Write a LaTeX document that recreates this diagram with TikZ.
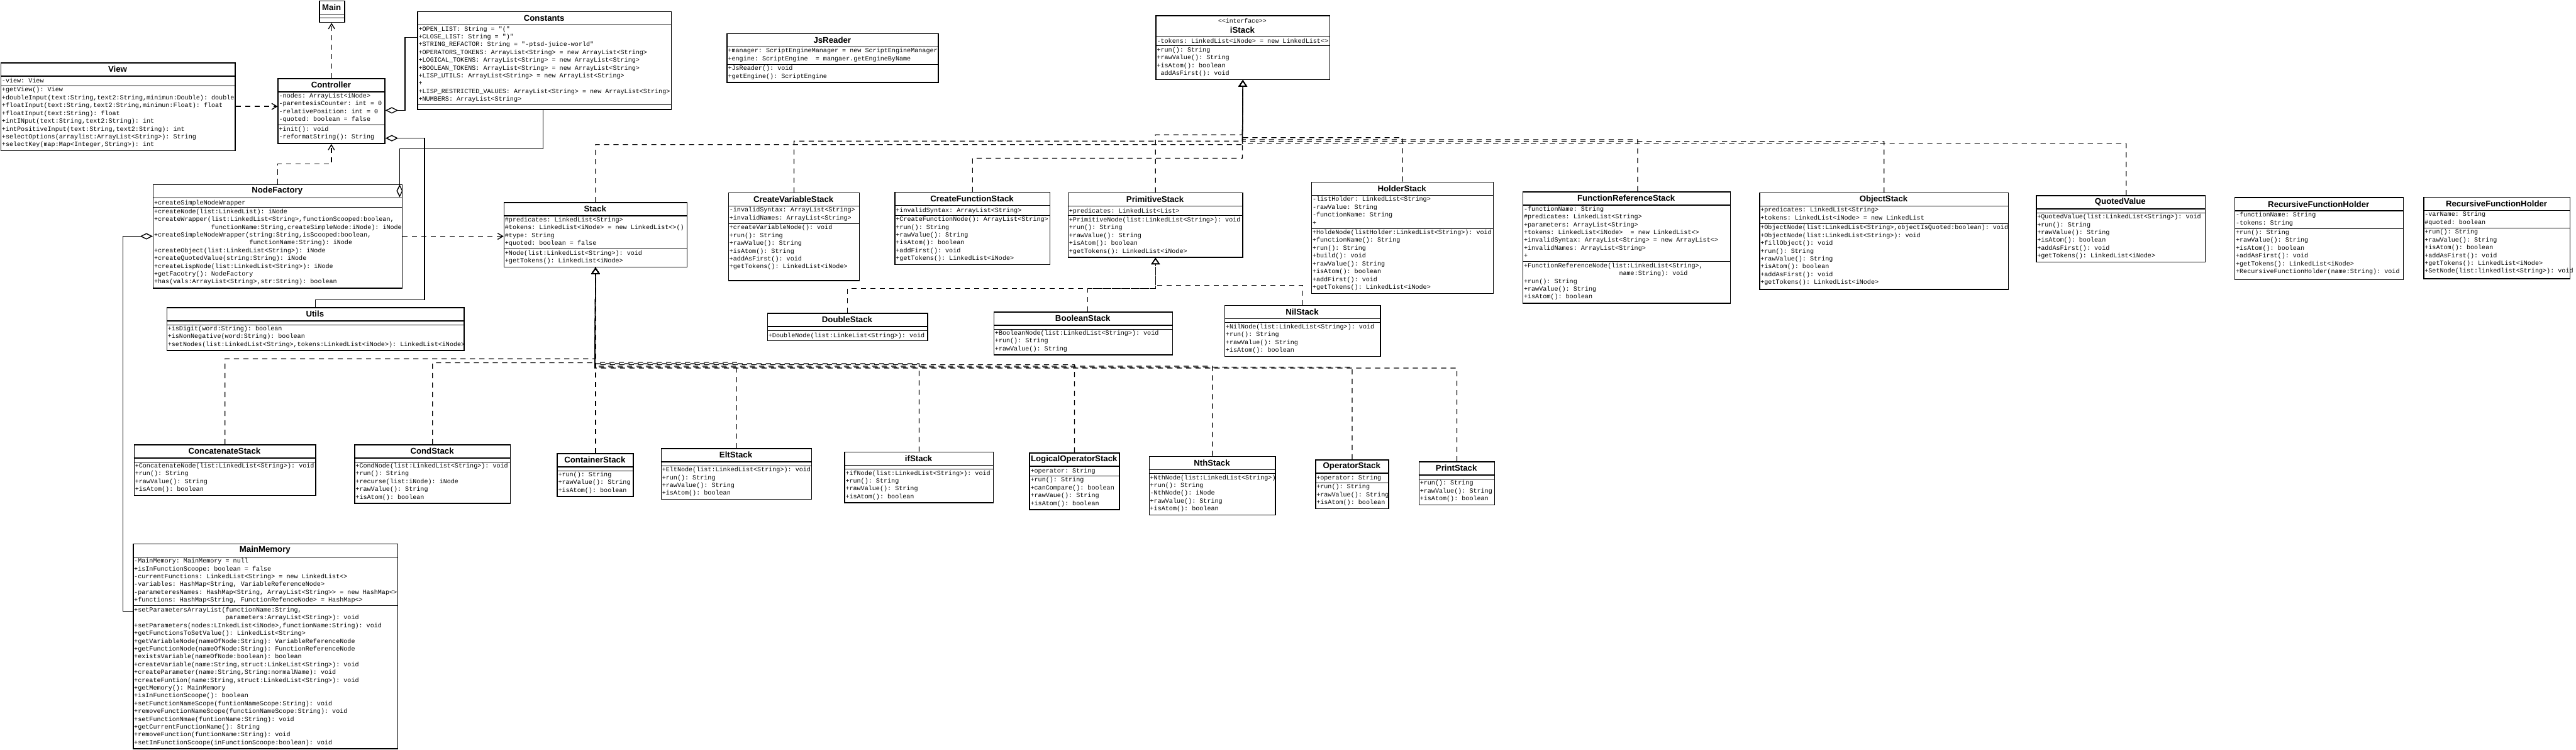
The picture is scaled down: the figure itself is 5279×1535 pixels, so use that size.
\documentclass[tikz,border=0pt]{standalone}
\usepackage{fontspec}
\setmainfont{Liberation Sans}
\setsansfont{Liberation Sans}
\setmonofont{Liberation Mono}
\usetikzlibrary{arrows.meta}
\def\ugeom#1/#2/#3/#4/#5/#6\relax{\def\uxa{#1}\def\uxb{#2}\def\uya{#3}\def\uyt{#4}\def\uys{#5}\def\uyb{#6}}
\newcommand\uclass[5]{%
  \ugeom#2\relax
  \node[ubox, anchor=north west, minimum width={(\uxb-\uxa)*0.01cm}, minimum height={(\uyb-\uya)*0.01cm}] (#1) at (\uxa,\uya) {};
  \draw[sepT] (\uxa,\uyt) -- (\uxb,\uyt);
  \draw[sepN] (\uxa,\uys) -- (\uxb,\uys);
  \node[utitle] (#1-t) at ({(\uxa+\uxb)/2},{(\uya+\uyt)/2}) {#3};
  \node[ubody] (#1-a) at (\uxa,\uyt) {#4};
  \node[ubody] (#1-m) at (\uxa,\uys) {#5};
}
\newcommand\ind[1]{\phantom{#1}}
\tikzset{
  ubox/.style={draw, line width=0.55pt, inner sep=0pt, fill=white},
  sepT/.style={line width=0.55pt},
  sepN/.style={line width=0.35pt},
  utitle/.style={font=\sffamily\bfseries\fontsize{4.85pt}{5.4pt}\selectfont, inner sep=0pt, align=center},
  ubody/.style={anchor=north west, align=left, inner xsep=0.6pt, inner ysep=0.57pt,
    font=\ttfamily\fontsize{3.7pt}{4.55pt}\selectfont,
    execute at begin node=\strut, execute at end node=\strut},
  dep/.style={line width=0.5pt, dash pattern=on 3pt off 2.5pt, -{Straight Barb[length=3pt,width=3.6pt,line width=0.5pt]}},
  agg/.style={line width=0.45pt, {Diamond[fill=white,length=7.4pt,width=3.7pt,line width=0.5pt]}-},
  real/.style={line width=0.45pt, dash pattern=on 3pt off 2.5pt, -{Triangle[open,length=3.8pt,width=5pt,line width=0.5pt]}},
}
\begin{document}
\begin{tikzpicture}[x=0.01cm,y=-0.01cm]
\useasboundingbox[fill=white] (0,0) rectangle (5279,1535);

% ---------- top row ----------
\uclass{Main}{654/705/1/29/37/45}{Main}{}{}
\uclass{View}{1/481/128/156/176/308}{View}{-view: View}{%
+getView(): View\\
+doubleInput(text:String,text2:String,minimun:Double): double\\
+floatInput(text:String,text2:String,minimun:Float): float\\
+floatInput(text:String): float\\
+intINput(text:String,text2:String): int\\
+intPositiveInput(text:String,text2:String): int\\
+selectOptions(arraylist:ArrayList<String>): String\\
+selectKey(map:Map<Integer,String>): int}
\uclass{Controller}{569/788/160/188/256/293}{Controller}{%
-nodes: ArrayList<iNode>\\
-parentesisCounter: int = 0\\
-relativePosition: int = 0\\
-quoted: boolean = false}{%
+init(): void\\
-reformatString(): String}
\uclass{Constants}{855/1375/23/51/215/223}{Constants}{%
+OPEN\_LIST: String = "("\\
+CLOSE\_LIST: String = ")"\\
+STRING\_REFACTOR: String = "-ptsd-juice-world"\\
+OPERATORS\_TOKENS: ArrayList<String> = new ArrayList<String>\\
+LOGICAL\_TOKENS: ArrayList<String> = new ArrayList<String>\\
+BOOLEAN\_TOKENS: ArrayList<String> = new ArrayList<String>\\
+LISP\_UTILS: ArrayList<String> = new ArrayList<String>\\
+\\
+LISP\_RESTRICTED\_VALUES: ArrayList<String> = new ArrayList<String>\\
+NUMBERS: ArrayList<String>}{}
\uclass{JsReader}{1489/1922/68/96/132/168}{JsReader}{%
+manager: ScriptEngineManager = new ScriptEngineManager\\
+engine: ScriptEngine\ \ = mangaer.getEngineByName}{%
+JsReader(): void\\
+getEngine(): ScriptEngine}
\uclass{iStack}{2368/2724/31/74/94/162}{{\ttfamily\mdseries\fontsize{3.6pt}{4.5pt}\selectfont <<interface>>}\\[0.4pt]iStack}{%
-tokens: LinkedList<iNode> = new LinkedList<>}{%
+run(): String\\
+rawValue(): String\\
+isAtom(): boolean\\
\ addAsFirst(): void}

% ---------- middle row ----------
\uclass{NodeFactory}{313/823/377/405/425/589}{NodeFactory}{+createSimpleNodeWrapper}{%
+createNode(list:LinkedList): iNode\\
+createWrapper(list:LinkedList<String>,functionScooped:boolean,\\
\ind{+createWrapper(}functionName:String,createSimpleNode:iNode): iNode\\
+createSimpleNodeWrapper(string:String,isScooped:boolean,\\
\ind{+createSimpleNodeWrapper(}functionName:String): iNode\\
+createObject(list:LinkedList<String>): iNode\\
+createQuotedValue(string:String): iNode\\
+createLispNode(list:LinkedList<String>): iNode\\
+getFacotry(): NodeFactory\\
+has(vals:ArrayList<String>,str:String): boolean}
\uclass{Utils}{341/950/629/657/665/717}{Utils}{}{%
+isDigit(word:String): boolean\\
+isNonNegative(word:String): boolean\\
+setNodes(list:LinkedList<String>,tokens:LinkedList<iNode>): LinkedList<iNode>}
\uclass{Stack}{1032/1407/414/442/510/546}{Stack}{%
\#predicates: LinkedList<String>\\
\#tokens: LinkedList<iNode> = new LinkedList<>()\\
\#type: String\\
+quoted: boolean = false}{%
+Node(list:LinkedList<String>): void\\
+getTokens(): LinkedList<iNode>}
\uclass{CVS}{1492/1760/394/422/458/574}{CreateVariableStack}{%
-invalidSyntax: ArrayList<String>\\
+invalidNames: ArrayList<String>}{%
+createVariableNode(): void\\
+run(): String\\
+rawValue(): String\\
+isAtom(): String\\
+addAsFirst(): void\\
+getTokens(): LinkedList<iNode>}
\uclass{CFS}{1833/2151/393/421/441/541}{CreateFunctionStack}{%
+invalidSyntax: ArrayList<String>}{%
+CreateFunctionNode(): ArrayList<String>\\
+run(): String\\
+rawValue(): String\\
+isAtom(): boolean\\
+addFirst(): void\\
+getTokens(): LinkedList<iNode>}
\uclass{PS}{2188/2546/394/422/442/526}{PrimitiveStack}{%
+predicates: LinkedList<List>}{%
+PrimitiveNode(list:LinkedList<String>): void\\
+run(): String\\
+rawValue(): String\\
+isAtom(): boolean\\
+getTokens(): LinkedList<iNode>}
\uclass{HS}{2687/3059/372/400/468/600}{HolderStack}{%
-listHolder: LinkedList<String>\\
-rawValue: String\\
-functionName: String\\
+}{%
+HoldeNode(listHolder:LinkedList<String>): void\\
+functionName(): String\\
+run(): String\\
+build(): void\\
+rawValue(): String\\
+isAtom(): boolean\\
+addFirst(): void\\
+getTokens(): LinkedList<iNode>}
\uclass{FRS}{3120/3545/392/420/536/620}{FunctionReferenceStack}{%
-functionName: String\\
\#predicates: LinkedList<String>\\
+parameters: ArrayList<String>\\
+tokens: LinkedList<iNode>\ \ = new LinkedList<>\\
+invalidSyntax: ArrayList<String> = new ArrayList<>\\
+invalidNames: ArrayList<String>\\
+}{%
+FunctionReferenceNode(list:LinkedList<String>,\\
\ind{+FunctionReferenceNode(xx}name:String): void\\
+run(): String\\
+rawValue(): String\\
+isAtom(): boolean}
\uclass{OS}{3605/4115/394/422/458/592}{ObjectStack}{%
+predicates: LinkedList<String>\\
+tokens: LinkedList<iNode> = new LinkedList}{%
+ObjectNode(list:LinkedList<String>,objectIsQuoted:boolean): void\\
+ObjectNode(list:LinkedList<String>): void\\
+fillObject(): void\\
+run(): String\\
+rawValue(): String\\
+isAtom(): boolean\\
+addAsFirst(): void\\
+getTokens(): LinkedList<iNode>}
\uclass{QV}{4172/4518/400/428/436/536}{QuotedValue}{}{%
+QuotedValue(list:LinkedList<String>): void\\
+run(): String\\
+rawValue(): String\\
+isAtom(): boolean\\
+addAsFirst(): void\\
+getTokens(): LinkedList<iNode>}
\uclass{RFHa}{4579/4924/404/432/468/572}{RecursiveFunctionHolder}{%
-functionName: String\\
-tokens: String}{%
+run(): String\\
+rawValue(): String\\
+isAtom(): boolean\\
+addAsFirst(): void\\
+getTokens(): LinkedList<iNode>\\
+RecursiveFunctionHolder(name:String): void}
\uclass{RFHb}{4966/5266/403/431/467/570}{RecursiveFunctionHolder}{%
-varName: String\\
\#quoted: boolean}{%
+run(): String\\
+rawValue(): String\\
+isAtom(): boolean\\
+addAsFirst(): void\\
+getTokens(): LinkedList<iNode>\\
+SetNode(list:linkedlist<String>): void}
\uclass{DS}{1572/1900/641/669/677/697}{DoubleStack}{}{%
+DoubleNode(list:LinkeList<String>): void}
\uclass{BS}{2036/2402/638/666/674/726}{BooleanStack}{}{%
+BooleanNode(list:LinkedList<String>): void\\
+run(): String\\
+rawValue(): String}
\uclass{NS}{2509/2828/625/653/661/729}{NilStack}{}{%
+NilNode(list:LinkedList<String>): void\\
+run(): String\\
+rawValue(): String\\
+isAtom(): boolean}

% ---------- bottom row ----------
\uclass{CatS}{274/646/910/938/946/1014}{ConcatenateStack}{}{%
+ConcatenateNode(list:LinkedList<String>): void\\
+run(): String\\
+rawValue(): String\\
+isAtom(): boolean}
\uclass{CondS}{726/1045/910/938/946/1030}{CondStack}{}{%
+CondNode(list:LinkedList<String>): void\\
+run(): String\\
+recurse(list:iNode): iNode\\
+rawValue(): String\\
+isAtom(): boolean}
\uclass{ConS}{1141/1297/928/956/964/1016}{ContainerStack}{}{%
+run(): String\\
+rawValue(): String\\
+isAtom(): boolean}
\uclass{EltS}{1354/1662/918/946/954/1022}{EltStack}{}{%
+EltNode(list:LinkedList<String>): void\\
+run(): String\\
+rawValue(): String\\
+isAtom(): boolean}
\uclass{IfS}{1730/2035/925/953/961/1029}{ifStack}{}{%
+ifNode(list:LinkedList<String>): void\\
+run(): String\\
+rawValue(): String\\
+isAtom(): boolean}
\uclass{LOS}{2109/2293/927/955/975/1043}{LogicalOperatorStack}{+operator: String}{%
+run(): String\\
+canCompare(): boolean\\
+rawVaue(): String\\
+isAtom(): boolean}
\uclass{NthS}{2354/2613/934/962/970/1054}{NthStack}{}{%
+NthNode(list:LinkedList<String>)\\
+run(): String\\
-NthNode(): iNode\\
+rawValue(): String\\
+isAtom(): boolean}
\uclass{OpS}{2695/2845/941/969/989/1041}{OperatorStack}{+operator: String}{%
+run(): String\\
+rawValue(): String\\
+isAtom(): boolean}
\uclass{PrS}{2907/3062/945/973/981/1033}{PrintStack}{}{%
+run(): String\\
+rawValue(): String\\
+isAtom(): boolean}
\uclass{MM}{272/814/1113/1141/1241/1533}{MainMemory}{%
-MainMemory: MainMemory = null\\
+isInFunctionScoope: boolean = false\\
-currentFunctions: LinkedList<String> = new LinkedList<>\\
-variables: HashMap<String, VariableReferenceNode>\\
-parameteresNames: HashMap<String, ArrayList<String>{}> = new HashMap<>\\
+functions: HashMap<String, FunctionRefenceNode> = HashMap<>}{%
+setParametersArrayList(functionName:String,\\
\ind{+setParametersArrayList(}parameters:ArrayList<String>): void\\
+setParameters(nodes:LInkedList<iNode>,functionName:String): void\\
+getFunctionsToSetValue(): LinkedList<String>\\
+getVariableNode(nameOfNode:String): VariableReferenceNode\\
+getFunctionNode(nameOfNode:String): FunctionReferenceNode\\
+existsVariable(nameOfNode:boolean): boolean\\
+createVariable(name:String,struct:LinkeList<String>): void\\
+createParameter(name:String,String:normalName): void\\
+createFuntion(name:String,struct:LinkedList<String>): void\\
+getMemory(): MainMemory\\
+isInFunctionScoope(): boolean\\
+setFunctionNameScope(funtionNameScope:String): void\\
+removeFunctionNameScope(functionNameScope:String): void\\
+setFunctionNmae(funtionName:String): void\\
+getCurrentFunctionName(): String\\
+removeFunction(funtionName:String): void\\
+setInFunctionScoope(inFunctionScoope:boolean): void}

% ---------- connectors ----------
\draw[dep] (Controller.north) -- (Controller.north |- Main.south);
\draw[dep] (View.east |- 0,218) -- (Controller.west |- 0,218);
\draw[agg] (Controller.east |- 0,226) -| (830,77) -- (Constants.west |- 0,77);
\draw[agg] (Controller.east |- 0,283) -| (870,614) -| (Utils.north);
\draw[agg] (819,404) -- (819,305) -| (Constants.south -| 1113,0);
\draw[dep] (NodeFactory.north) |- (679,336) -- (Controller.south -| 679,0);
\draw[agg] (NodeFactory.west |- 0,484) -| (252,1252) -- (MM.west |- 0,1252);
\draw[dep] (NodeFactory.east |- 0,484) -- (Stack.west |- 0,484);

% realizations to iStack
\draw[real] (Stack.north) |- (2546,296) -- (iStack.south);
\draw[real] (CVS.north) |- (2546,289) -- (iStack.south);
\draw[real] (CFS.north) |- (2546,324) -- (iStack.south);
\draw[real] (PS.north) |- (2546,276) -- (iStack.south);
\draw[real] (HS.north) |- (2546,282) -- (iStack.south);
\draw[real] (FRS.north -| 3356,0) |- (2546,286) -- (iStack.south);
\draw[real] (OS.north) |- (2546,290) -- (iStack.south);
\draw[real] (QV.north -| 4357,0) |- (2546,294) -- (iStack.south);

% subclasses of Stack
\draw[real] (CatS.north) |- (1219,735) -- (Stack.south);
\draw[real] (CondS.north) |- (1219,743) -- (Stack.south);
\draw[real] (ConS.north -| Stack.south) -- (Stack.south);
\draw[real] (EltS.north) |- (1219,742) -- (Stack.south);
\draw[real] (IfS.north) |- (1219,745) -- (Stack.south);
\draw[real] (LOS.north) |- (1219,747) -- (Stack.south);
\draw[real] (NthS.north) |- (1219,750) -- (Stack.south);
\draw[real] (OpS.north) |- (1219,752) -- (Stack.south);
\draw[real] (PrS.north) |- (1219,754) -- (Stack.south);

% subclasses of PrimitiveStack
\draw[real] (DS.north) |- (PS.south |- 0,591) -- (PS.south);
\draw[real] (BS.north -| 2229,0) |- (PS.south |- 0,591) -- (PS.south);
\draw[real] (NS.north) |- (PS.south |- 0,584) -- (PS.south);
\end{tikzpicture}
\end{document}
